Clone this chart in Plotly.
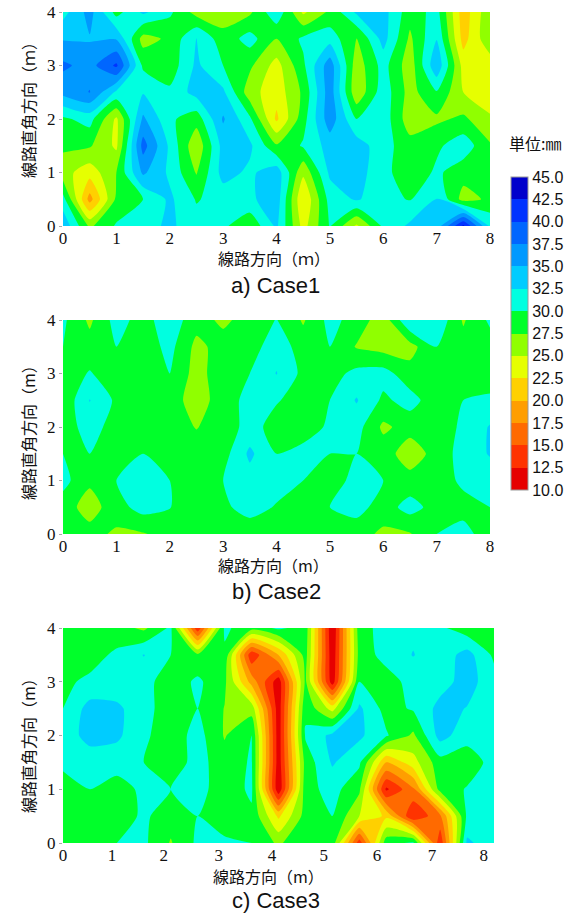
import plotly.graph_objects as go

W, H = 574, 913
x_m = [0, 0.5, 1, 1.5, 2, 2.5, 3, 3.5, 4, 4.5, 5, 5.5, 6, 6.5, 7, 7.5, 8]
y_m = [0, 0.5, 1, 1.5, 2, 2.5, 3, 3.5, 4]
levels_tick = [10, 12.5, 15, 17.5, 20, 22.5, 25, 27.5, 30, 32.5, 35, 37.5, 40, 42.5, 45]
band_colors = ["#e60000", "#ff3300", "#ff6a00", "#ff9e00", "#ffd000", "#e6ff00", "#90ff00",
               "#00ff2a", "#00ffe0", "#00ccff", "#0099ff", "#0066ff", "#0033ff", "#0000cc"]

case1 = [
 [34.5, 27.0, 30.3, 31.5, 33.0, 31.0, 30.5, 28.0, 33.0, 24.0, 30.2, 24.5, 30.5, 33.0, 33.5, 43.0, 32.0],
 [31.0, 19.0, 28.0, 30.0, 33.0, 29.8, 31.0, 32.0, 34.0, 22.5, 31.0, 32.8, 31.0, 29.8, 32.6, 26.5, 28.0],
 [26.0, 23.5, 27.5, 35.5, 32.0, 27.3, 33.5, 32.0, 34.0, 25.5, 33.0, 33.5, 31.0, 28.0, 30.5, 28.5, 28.0],
 [28.0, 27.8, 24.5, 38.5, 32.0, 25.5, 33.5, 33.0, 27.8, 30.3, 33.5, 33.8, 31.0, 28.5, 29.5, 31.5, 27.8],
 [29.5, 31.0, 24.5, 35.5, 30.5, 28.5, 35.3, 30.5, 22.0, 29.0, 36.5, 30.0, 31.5, 26.0, 27.0, 28.0, 25.5],
 [35.8, 37.6, 32.0, 32.3, 30.5, 33.5, 33.0, 26.0, 23.5, 28.0, 36.5, 25.5, 31.5, 26.5, 29.8, 25.0, 23.0],
 [38.0, 36.5, 40.5, 29.5, 28.5, 33.0, 30.0, 28.0, 24.0, 29.5, 36.5, 26.0, 31.0, 26.0, 34.5, 24.0, 23.5],
 [34.8, 34.8, 34.8, 26.5, 28.0, 32.6, 28.5, 31.0, 27.5, 30.5, 31.5, 27.3, 33.5, 27.0, 32.4, 21.5, 27.0],
 [31.5, 36.0, 29.0, 33.0, 30.5, 26.5, 26.0, 27.0, 32.0, 24.5, 28.0, 33.0, 33.5, 28.5, 31.0, 21.0, 27.0],
]
case2 = [
 [28.5, 28.5, 27.0, 27.3, 28.5, 28.5, 28.5, 28.5, 28.5, 28.5, 28.5, 28.5, 27.0, 27.3, 30.0, 31.0, 28.5],
 [28.8, 26.3, 29.0, 31.0, 30.1, 28.5, 29.5, 31.0, 29.8, 28.5, 30.0, 31.0, 28.8, 31.0, 29.0, 29.0, 30.0],
 [30.8, 28.0, 30.0, 31.5, 30.0, 28.5, 30.0, 31.5, 31.0, 30.0, 28.5, 31.0, 30.0, 28.5, 28.5, 30.6, 31.0],
 [30.0, 30.0, 29.0, 30.0, 29.0, 28.5, 29.0, 33.0, 30.0, 31.0, 30.0, 30.0, 28.8, 26.0, 28.5, 31.0, 32.7],
 [28.8, 31.0, 29.0, 28.5, 28.5, 27.4, 28.5, 31.0, 29.0, 28.5, 30.5, 31.0, 27.0, 28.5, 28.5, 30.5, 32.7],
 [28.0, 32.6, 29.5, 28.5, 28.5, 26.5, 28.5, 31.0, 30.2, 29.0, 30.0, 32.7, 29.5, 31.0, 28.5, 30.0, 30.5],
 [28.5, 30.2, 28.5, 28.5, 30.0, 26.5, 29.0, 30.0, 32.6, 29.3, 29.0, 30.7, 31.0, 28.5, 28.5, 28.5, 28.5],
 [30.0, 28.5, 30.0, 28.5, 30.8, 26.8, 28.5, 28.8, 31.5, 28.8, 30.0, 27.3, 26.5, 26.5, 30.0, 28.5, 28.8],
 [30.5, 27.0, 31.0, 29.0, 31.5, 28.5, 27.0, 28.5, 30.1, 27.2, 30.8, 29.0, 26.0, 32.5, 32.0, 27.2, 30.5],
]
case3 = [
 [28.5, 28.5, 30.0, 30.5, 27.3, 30.5, 30.5, 30.0, 27.0, 30.0, 29.0, 13.5, 29.0, 30.5, 13.0, 33.0, 31.0],
 [28.5, 28.5, 28.5, 30.5, 28.5, 30.0, 28.5, 29.5, 22.0, 28.5, 30.0, 25.0, 22.0, 12.5, 17.0, 30.5, 31.0],
 [29.0, 30.0, 29.0, 30.5, 30.0, 31.0, 28.5, 30.5, 10.5, 29.0, 31.0, 28.0, 12.0, 17.0, 28.5, 30.2, 31.0],
 [30.5, 31.0, 31.0, 30.0, 28.5, 31.0, 28.5, 30.3, 11.0, 28.5, 32.8, 30.5, 20.0, 24.0, 29.0, 28.5, 31.0],
 [31.0, 33.5, 33.0, 30.5, 28.5, 31.0, 27.3, 30.0, 11.0, 30.3, 33.2, 33.0, 30.3, 27.0, 33.5, 31.0, 31.0],
 [30.0, 33.5, 33.0, 31.0, 28.5, 30.0, 27.4, 26.5, 11.0, 29.5, 24.0, 33.0, 29.0, 30.3, 33.3, 32.4, 31.0],
 [29.5, 30.5, 31.0, 31.0, 28.5, 30.5, 28.0, 19.0, 11.0, 28.0, 11.0, 30.0, 28.8, 31.0, 31.5, 33.5, 31.0],
 [29.0, 29.0, 30.5, 32.6, 30.0, 28.0, 29.5, 13.0, 20.0, 28.5, 10.5, 28.5, 31.0, 32.6, 31.0, 33.5, 29.5],
 [28.5, 28.5, 28.5, 27.0, 30.5, 13.0, 30.5, 28.5, 30.5, 29.0, 10.0, 29.0, 31.0, 32.0, 30.5, 28.5, 28.5],
]

colorscale = []
for i, c in enumerate(band_colors):
    colorscale += [[i / len(band_colors), c], [(i + 1) / len(band_colors), c]]

panels = [
    dict(z=case1, left=63, right=490, top=12, bottom=226, name="x", yname="y",
         xtitle="線路方向（ｍ）", ytitle="線路直角方向（ｍ）", case="a) Case1",
         xtitle_xy=(274, 258), ytitle_xy=(28, 106), case_xy=(275, 285),
         xticks=[0, 1, 2, 3, 4, 5, 6, 7, 8]),
    dict(z=case2, left=63, right=490, top=320, bottom=534, name="x2", yname="y2",
         xtitle="線路方向（m）", ytitle="線路直角方向（m）", case="b) Case2",
         xtitle_xy=(273, 565), ytitle_xy=(28, 429), case_xy=(276, 591),
         xticks=[0, 1, 2, 3, 4, 5, 6, 7, 8]),
    dict(z=case3, left=63, right=494, top=628, bottom=843, name="x3", yname="y3",
         xtitle="線路方向（m）", ytitle="線路直角方向（m）", case="c) Case3",
         xtitle_xy=(268, 876), ytitle_xy=(28, 742), case_xy=(276, 900),
         xticks=[0, 0.91, 1.87, 2.89, 3.88, 4.84, 5.83, 6.85, 7.81]),
]

fig = go.Figure()
annotations = []


def fx(px):
    return px / W


def fy(py):
    return 1 - py / H


def note(text, xy, size, family, angle=0):
    annotations.append(dict(text=text, x=fx(xy[0]), y=fy(xy[1]), xref="paper", yref="paper",
                            showarrow=False, xanchor="center", yanchor="middle", textangle=angle,
                            font=dict(size=size, family=family, color="#111111")))


layout_axes = {}
for i, p in enumerate(panels):
    fig.add_trace(go.Contour(
        x=x_m, y=y_m, z=p["z"], xaxis=p["name"], yaxis=p["yname"],
        zmin=10, zmax=45, autocontour=False,
        contours=dict(start=10, end=45, size=2.5, coloring="fill", showlines=False),
        line=dict(width=0, smoothing=0.6), colorscale=colorscale, showscale=i == 0,
        colorbar=dict(
            thickness=17, thicknessmode="pixels", len=313, lenmode="pixels",
            x=fx(511), xanchor="left", y=fy(177), yanchor="top", xpad=0, ypad=0,
            tickmode="array", tickvals=levels_tick, ticktext=[f"{v:.1f}" for v in levels_tick],
            ticks="", ticklabelposition="outside",
            tickfont=dict(size=16, family="Liberation Sans", color="#111111"),
            outlinecolor="#999999", outlinewidth=1),
    ))
    xkey = "xaxis" + p["name"][1:]
    ykey = "yaxis" + p["yname"][1:]
    layout_axes[xkey] = dict(
        domain=[fx(p["left"]), fx(p["right"])], range=[0, 8], anchor=p["yname"],
        tickmode="array", tickvals=p["xticks"], ticktext=[str(v) for v in range(9)],
        tickfont=dict(size=17, family="Liberation Serif", color="#111111"),
        ticks="", showgrid=False, zeroline=False, showline=False, automargin=False)
    layout_axes[ykey] = dict(
        domain=[fy(p["bottom"]), fy(p["top"])], range=[0, 4], anchor=p["name"],
        tickmode="array", tickvals=[0, 1, 2, 3, 4],
        tickfont=dict(size=17, family="Liberation Serif", color="#111111"),
        ticks="outside", ticklen=3, tickcolor="#aaaaaa", showgrid=False, zeroline=False, showline=False,
        automargin=False)
    note(p["xtitle"], p["xtitle_xy"], 16, "Noto Sans CJK JP")
    note(p["ytitle"], p["ytitle_xy"], 16, "Noto Sans CJK JP", angle=-90)
    note(p["case"], p["case_xy"], 22, "Liberation Sans")

note("単位:㎜", (535, 143), 16, "Noto Sans CJK JP")

fig.update_layout(width=W, height=H, margin=dict(l=0, r=0, t=0, b=0, pad=0, autoexpand=False),
                  paper_bgcolor="white", plot_bgcolor="white", annotations=annotations,
                  showlegend=False, **layout_axes)
fig.write_html("out.html", config={"displayModeBar": False},
               post_script="document.body.style.margin='0';document.documentElement.style.overflow='hidden';")
